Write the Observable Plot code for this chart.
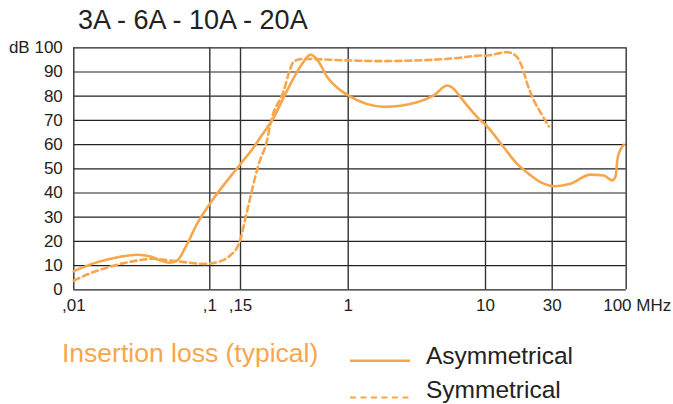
<!DOCTYPE html>
<html>
<head>
<meta charset="utf-8">
<script src="https://cdn.jsdelivr.net/npm/d3@7"></script>
<script src="https://cdn.jsdelivr.net/npm/@observablehq/plot@0.6"></script>
<style>
  html, body { margin: 0; padding: 0; background: #fff; }
  body { font-family: "Liberation Sans", Arial, Helvetica, sans-serif; }
  #wrap { position: relative; width: 673px; height: 404px; overflow: hidden; }
  #chart { position: absolute; left: 0; top: 40px; }
  #title { position: absolute; left: 0; top: 0; }
  #legend { position: absolute; left: 0; top: 330px; }
</style>
</head>
<body>
<div id="wrap">
  <svg id="title" width="673" height="40"></svg>
  <div id="chart"></div>
  <svg id="legend" width="673" height="74"></svg>
</div>
<script>
// ---- data ----
const titleText = "3A - 6A - 10A - 20A";
const legendTitle = "Insertion loss (typical)";
const seriesNames = ["Asymmetrical", "Symmetrical"];

// Asymmetrical (solid)
const asymFreq = [0.01, 0.0133, 0.0186, 0.0293, 0.0366, 0.0434, 0.05, 0.0576, 0.0663, 0.0807, 0.1, 0.15, 0.19, 0.207, 0.27, 0.331, 0.445, 0.515, 0.585, 0.691, 0.874, 1.0, 1.82, 3.18, 4.2, 5.26, 5.88, 6.57, 9.2, 10, 13.5, 16.85, 20.4, 24.7, 31.6, 40.4, 55.9, 69.4, 79.7, 84.0, 87.2, 96.2];
const asymDb   = [7.7, 10.5, 12.8, 14.5, 13.8, 12.1, 11.2, 12.1, 17.6, 27.3, 35.5, 52, 59, 62, 71.3, 81, 93.4, 97.2, 94.8, 87.9, 82.4, 80.3, 75.6, 77.5, 80.3, 84.4, 83, 79.6, 70, 68.2, 58.9, 52, 47.9, 44.5, 42.8, 43.8, 47.6, 47.2, 45.2, 46.8, 54.8, 60];

// Symmetrical (dashed)
const symFreq = [0.01, 0.0133, 0.0186, 0.0293, 0.0387, 0.0514, 0.0682, 0.0904, 0.110, 0.131, 0.1436, 0.15, 0.1667, 0.207, 0.24, 0.254, 0.322, 0.357, 0.384, 0.457, 0.983, 1.719, 3.97, 6.57, 9.2, 10, 14.3, 16.4, 18.3, 19.9, 22.2, 24.7, 28.4];
const symDb   = [3.8, 6.9, 9.6, 12.1, 12.8, 12.1, 11.3, 10.7, 11.4, 14.2, 17.6, 21, 31.5, 52, 62, 68.6, 82.4, 90.6, 94.5, 95.4, 94.8, 94.5, 95, 95.9, 96.8, 96.8, 98.2, 96.8, 92, 85.1, 78.2, 73.4, 67.5];

// axes
const xTicks = [0.01, 0.1, 0.15, 1, 10, 30, 100];
const xTickLabels = [",01", ",1", ",15", "1", "10", "30", "100 MHz"];
const yTicks = [0, 10, 20, 30, 40, 50, 60, 70, 80, 90, 100];
const yTickLabels = ["0", "10", "20", "30", "40", "50", "60", "70", "80", "90", "dB 100"];

// ---- styles ----
const orange = "#f8a64c";
const ink = "#222";
const font = "'Liberation Sans', Arial, Helvetica, sans-serif";

const asym = asymFreq.map((f, i) => ({f, db: asymDb[i]}));
const sym = symFreq.map((f, i) => ({f, db: symDb[i]}));
const xt = xTicks.map((v, i) => ({v, label: xTickLabels[i]}));
const yt = yTicks.map((v, i) => ({v, label: yTickLabels[i]}));

const plot = Plot.plot({
  width: 673,
  height: 290,
  marginLeft: 73.3,
  marginRight: 47.3,
  marginTop: 7.3,
  marginBottom: 40.7,
  style: {fontFamily: font, fontSize: "17px", color: ink, background: "transparent", overflow: "visible"},
  x: {type: "log", domain: xTicks, range: [73.3, 209.3, 240, 347.7, 485, 551.7, 625.7], axis: null},
  y: {domain: [0, 100], axis: null},
  marks: [
    Plot.ruleY(yTicks, {stroke: ink, strokeWidth: 1.2, strokeOpacity: 1}),
    Plot.ruleX(xTicks, {stroke: "#333", strokeWidth: 1.4, strokeOpacity: 1}),
    Plot.line(sym, {x: "f", y: "db", stroke: orange, strokeWidth: 2.6, strokeDasharray: "6,4", curve: "monotone-x"}),
    Plot.line(asym, {x: "f", y: "db", stroke: orange, strokeWidth: 2.6, curve: "monotone-x"}),
    Plot.text(yt, {y: "v", text: "label", frameAnchor: "left", textAnchor: "end", dx: -11, fill: ink, fontSize: 17}),
    Plot.text(xt.filter(d => d.v !== 100), {x: "v", text: "label", frameAnchor: "bottom", dy: 21, fill: ink, fontSize: 17}),
    Plot.text(xt.filter(d => d.v === 100), {x: "v", text: "label", frameAnchor: "bottom", dy: 21, dx: -23, textAnchor: "start", fill: ink, fontSize: 17})
  ]
});
document.getElementById("chart").appendChild(plot);

// ---- title ----
const t = d3.select("#title");
t.append("text").attr("x", 78).attr("y", 29).attr("font-family", font).attr("font-size", 27).attr("fill", ink).text(titleText);

// ---- legend ----
const lg = d3.select("#legend");
lg.append("text").attr("x", 62).attr("y", 32).attr("font-family", font).attr("font-size", 26.5).attr("fill", orange).text(legendTitle);
lg.append("line").attr("x1", 350).attr("x2", 410).attr("y1", 30.7).attr("y2", 30.7).attr("stroke", orange).attr("stroke-width", 2.6);
lg.append("text").attr("x", 426).attr("y", 34.3).attr("font-family", font).attr("font-size", 24.5).attr("fill", ink).text(seriesNames[0]);
lg.append("line").attr("x1", 350).attr("x2", 410).attr("y1", 67.5).attr("y2", 67.5).attr("stroke", orange).attr("stroke-width", 2.2).attr("stroke-dasharray", "6,4.5");
lg.append("text").attr("x", 426).attr("y", 68.3).attr("font-family", font).attr("font-size", 24.5).attr("fill", ink).text(seriesNames[1]);
</script>
</body>
</html>
